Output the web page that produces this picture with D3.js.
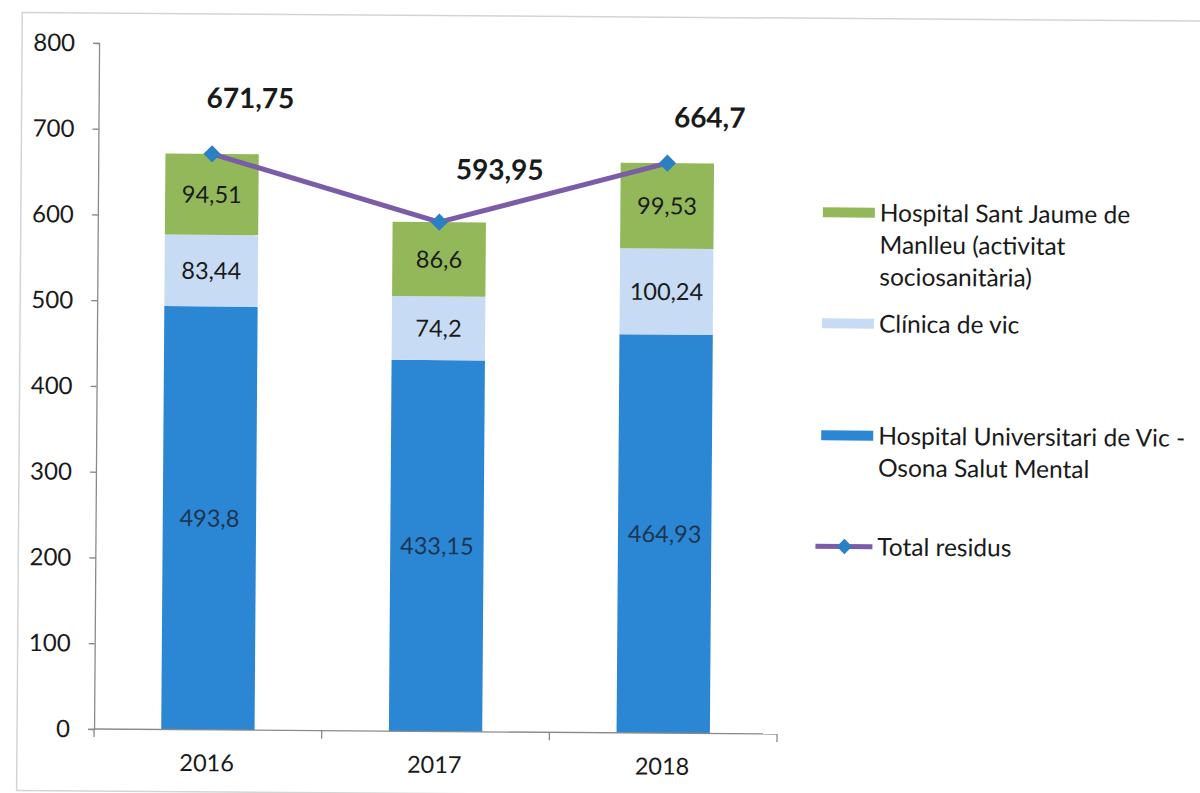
<!DOCTYPE html>
<html>
<head>
<meta charset="utf-8">
<script src="https://cdn.jsdelivr.net/npm/d3@7"></script>
<style>
  html, body { margin: 0; padding: 0; background: #fff; }
  svg { display: block; }
  text { font-family: Lato, "Open Sans", sans-serif; fill: #1a1a1a; }
</style>
</head>
<body>
<svg id="chart" width="1200" height="793"></svg>
<script>
// Waste per centre (tones) by year
const years = ["2016", "2017", "2018"];
const hospitalVic = [493.8, 433.15, 464.93];     // Hospital Universitari de Vic - Osona Salut Mental
const clinicaVic = [83.44, 74.2, 100.24];        // Clínica de vic
const santJaume = [94.51, 86.6, 99.53];          // Hospital Sant Jaume de Manlleu
const totals = [671.75, 593.95, 664.7];          // Total residus
const yTicks = [0, 100, 200, 300, 400, 500, 600, 700, 800];

const seriesNames = [
  ["Hospital Sant Jaume de", "Manlleu (activitat", "sociosanitària)"],
  ["Clínica de vic"],
  ["Hospital Universitari de Vic -", "Osona Salut Mental"],
  ["Total residus"]
];
const colors = { vic: "#2b87d4", clinica: "#c7dcf4", jaume: "#92b85a", line: "#7a5ca8", marker: "#2b7fc4" };

// placement of the total labels relative to their markers
const totalLabelOffset = [[38, -46], [60, -43], [42, -36]];

const fmt = v => String(v).replace(".", ",");

// the printed page sits slightly skewed
const svg = d3.select("#chart").append("g").attr("transform", "rotate(0.42, 96, 600)");

// chart frame
svg.append("rect")
  .attr("x", 18).attr("y", 13).attr("width", 1200).attr("height", 778)
  .attr("fill", "none").attr("stroke", "#d4d4d4").attr("stroke-width", 1.5);

const x = d3.scaleBand().domain(years).range([95, 778]).paddingInner(0.59).paddingOuter(0.295);
const y = d3.scaleLinear().domain([0, 800]).range([729, 43]);

// stacked data
const rows = years.map((yr, i) => ({ year: yr, vic: hospitalVic[i], clinica: clinicaVic[i], jaume: santJaume[i] }));
const keys = ["vic", "clinica", "jaume"];
const stacked = d3.stack().keys(keys)(rows);

const layers = svg.append("g").selectAll("g").data(stacked).join("g")
  .attr("fill", d => colors[d.key]);

layers.selectAll("rect").data(d => d).join("rect")
  .attr("x", d => x(d.data.year))
  .attr("width", x.bandwidth())
  .attr("y", d => y(d[1]))
  .attr("height", d => y(d[0]) - y(d[1]));

// segment value labels
layers.each(function(layer) {
  d3.select(this).selectAll("text").data(layer).join("text")
    .attr("x", d => x(d.data.year) + x.bandwidth() / 2)
    .attr("y", d => (y(d[0]) + y(d[1])) / 2)
    .attr("dy", "0.36em")
    .attr("text-anchor", "middle")
    .attr("font-size", 23.5)
    .style("fill", layer.key === "vic" ? "#1d3550" : "#1a1a1a")
    .text(d => fmt(d.data[layer.key]));
});

// axes
const yAxis = svg.append("g").attr("transform", "translate(95,0)")
  .call(d3.axisLeft(y).tickValues(yTicks).tickSize(6).tickPadding(18));
yAxis.select(".domain").attr("stroke", "#8a8a8a").attr("stroke-width", 1.3);
yAxis.selectAll(".tick line").attr("stroke", "#8a8a8a").attr("stroke-width", 1.3);
yAxis.selectAll(".tick text").attr("font-size", 24).attr("font-family", "Lato").style("fill", "#1a1a1a");

const xAxisG = svg.append("g").attr("transform", "translate(0,729)");
xAxisG.append("line").attr("x1", 95).attr("x2", 778).attr("y1", 0).attr("y2", 0)
  .attr("stroke", "#8a8a8a").attr("stroke-width", 1.3);
const boundaries = d3.range(years.length + 1).map(i => 95 + i * x.step());
xAxisG.selectAll("line.tk").data(boundaries).join("line").attr("class", "tk")
  .attr("x1", d => d).attr("x2", d => d).attr("y1", 0).attr("y2", 8)
  .attr("stroke", "#8a8a8a").attr("stroke-width", 1.3);
xAxisG.selectAll("text").data(years).join("text")
  .attr("x", d => x(d) + x.bandwidth() / 2 - 1)
  .attr("y", 33)
  .attr("dy", "0.36em")
  .attr("text-anchor", "middle")
  .attr("font-size", 23.5)
  .text(d => d);

// total line
const cx = d => x(d) + x.bandwidth() / 2;
const line = d3.line().x((d, i) => cx(years[i])).y(d => y(d));
svg.append("path").datum(totals)
  .attr("d", line)
  .attr("fill", "none")
  .attr("stroke", colors.line)
  .attr("stroke-width", 5)
  .attr("stroke-linejoin", "round");

const diamond = d3.symbol().type(d3.symbolDiamond2).size(190);
svg.selectAll("path.mk").data(totals).join("path").attr("class", "mk")
  .attr("d", diamond)
  .attr("transform", (d, i) => `translate(${cx(years[i])},${y(d)})`)
  .attr("fill", colors.marker);

svg.selectAll("text.tot").data(totals).join("text").attr("class", "tot")
  .attr("x", (d, i) => cx(years[i]) + totalLabelOffset[i][0])
  .attr("y", (d, i) => y(d) + totalLabelOffset[i][1])
  .attr("text-anchor", "middle")
  .attr("font-size", 28)
  .attr("font-weight", "bold")
  .text(d => fmt(d));

// legend
const legendY = [207, 318, 430, 541];
const legend = svg.append("g");
const swatchColors = [colors.jaume, colors.clinica, colors.vic];
seriesNames.forEach((lines, i) => {
  const g = legend.append("g").attr("transform", `translate(0,${legendY[i]})`);
  if (i < 3) {
    g.append("rect").attr("x", 820).attr("y", -5).attr("width", 52).attr("height", 10)
      .attr("fill", swatchColors[i]);
  } else {
    g.append("line").attr("x1", 815).attr("x2", 872).attr("y1", 0).attr("y2", 0)
      .attr("stroke", colors.line).attr("stroke-width", 5);
    g.append("path").attr("d", d3.symbol().type(d3.symbolDiamond2).size(150))
      .attr("transform", "translate(844,0)").attr("fill", colors.marker);
  }
  g.selectAll("text").data(lines).join("text")
    .attr("x", 877)
    .attr("y", (d, j) => j * 32)
    .attr("dy", "0.36em")
    .attr("font-size", 24.5)
    .text(d => d);
});
</script>
</body>
</html>
